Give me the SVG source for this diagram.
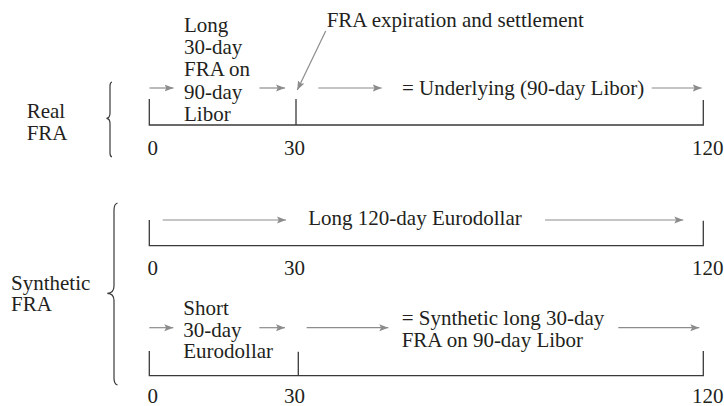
<svg xmlns="http://www.w3.org/2000/svg" width="724" height="406" viewBox="0 0 724 406">
  <style>
    text { font-family: "Liberation Serif", "Times New Roman", serif; font-size: 21px; fill: #231f20; }
    .axis { fill: none; stroke: #3a3a3a; stroke-width: 1.3; }
    .brace { fill: none; stroke: #3a3a3a; stroke-width: 1.2; }
    .flow { fill: none; stroke: #8c8c8c; stroke-width: 1.2; marker-end: url(#head); }
  </style>
  <defs>
    <marker id="head" markerUnits="userSpaceOnUse" markerWidth="10" markerHeight="8" refX="9" refY="4" orient="auto">
      <path d="M0,0.5 L9,4 L0,7.5 L1.8,4 z" fill="#8c8c8c"/>
    </marker>
  </defs>

  <!-- Real FRA -->
  <g id="real-label">
    <text x="26.7" y="118">Real</text>
    <text x="26.7" y="140">FRA</text>
    <path class="brace" d="M112,82 Q110,82.5 110,86 V113 Q110,118 106.5,118.3 Q110,118.6 110,123.5 V153 Q110,156.5 112,157"/>
  </g>
  <g id="real-timeline">
    <path class="axis" d="M149.3,99 V125 H703.3 V100 M296,99 V125"/>
    <text x="147.5" y="155">0</text>
    <text x="284" y="155">30</text>
    <text x="692" y="155">120</text>
  </g>
  <g id="real-long-fra">
    <text x="184" y="32">Long</text>
    <text x="184" y="54">30-day</text>
    <text x="184" y="76">FRA on</text>
    <text x="184" y="98.5">90-day</text>
    <text x="184" y="120.5">Libor</text>
  </g>
  <g id="real-expiration">
    <text x="326.7" y="27">FRA expiration and settlement</text>
  </g>
  <g id="real-underlying">
    <text x="402" y="95">= Underlying (90-day Libor)</text>
  </g>

  <!-- Synthetic FRA -->
  <g id="synthetic-label">
    <text x="11" y="289.5">Synthetic</text>
    <text x="11" y="310.5">FRA</text>
    <path class="brace" d="M117.5,203 Q114,204 114,210 V286 Q114,293 107.3,293.3 Q114,293.6 114,300.5 V378 Q114,384 117.5,385"/>
  </g>
  <g id="eurodollar-120-timeline">
    <path class="axis" d="M149.3,220 V245.7 H703.3 V220.7"/>
    <text x="147.5" y="275">0</text>
    <text x="284" y="275">30</text>
    <text x="692" y="275">120</text>
  </g>
  <g id="long-eurodollar">
    <text x="308.3" y="225">Long 120-day Eurodollar</text>
  </g>
  <g id="eurodollar-30-timeline">
    <path class="axis" d="M149.3,351 V375.7 H703.3 V351 M298.3,351.7 V375.7"/>
    <text x="147.5" y="402.5">0</text>
    <text x="284" y="402.5">30</text>
    <text x="692" y="402.5">120</text>
  </g>
  <g id="short-eurodollar">
    <text x="183.3" y="315">Short</text>
    <text x="183.3" y="336.5">30-day</text>
    <text x="183.3" y="358">Eurodollar</text>
  </g>
  <g id="synthetic-long-fra">
    <text x="401.7" y="325">= Synthetic long 30-day</text>
    <text x="401.7" y="346.5">FRA on 90-day Libor</text>
  </g>

  <!-- flow arrows -->
  <g id="connectors">
    <line class="flow" x1="149.5" y1="88" x2="173.5" y2="88"/>
    <line class="flow" x1="259.5" y1="88" x2="285" y2="88"/>
    <line class="flow" x1="325.7" y1="31" x2="297.3" y2="90"/>
    <line class="flow" x1="318.3" y1="88" x2="381.7" y2="88"/>
    <line class="flow" x1="651.7" y1="88" x2="701.7" y2="88"/>

    <line class="flow" x1="162.7" y1="220" x2="286" y2="220"/>
    <line class="flow" x1="545" y1="220" x2="683.3" y2="220"/>

    <line class="flow" x1="149.3" y1="327.7" x2="173.3" y2="327.7"/>
    <line class="flow" x1="259.3" y1="327.7" x2="285" y2="327.7"/>
    <line class="flow" x1="306.7" y1="327.7" x2="388.3" y2="327.7"/>
    <line class="flow" x1="618.3" y1="327.7" x2="699.3" y2="327.7"/>
  </g>
</svg>
